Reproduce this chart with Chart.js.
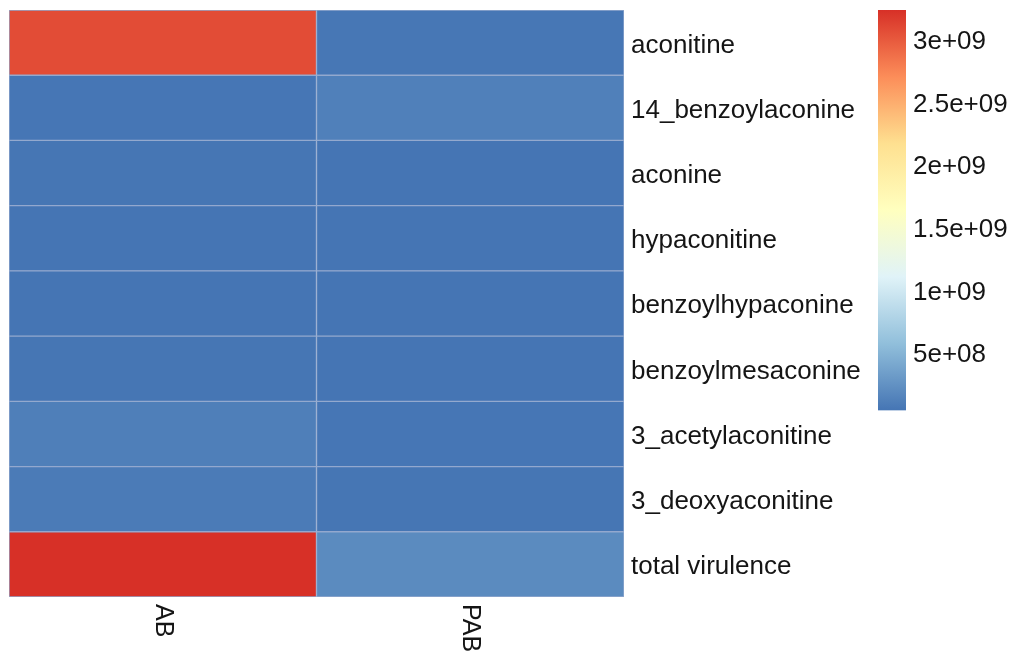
<!DOCTYPE html>
<html>
<head>
<meta charset="utf-8">
<title>Alkaloid content heatmap</title>
<script src="https://cdn.jsdelivr.net/npm/chart.js@4/dist/chart.umd.min.js"></script>
<style>
  html, body { margin: 0; padding: 0; background: #ffffff; }
  #wrap { width: 1017px; height: 660px; position: relative; }
</style>
</head>
<body>
<div id="wrap"><canvas id="heat"></canvas></div>
<script>
// Rows (compounds) and columns (samples)
const compounds = [
  'aconitine', '14_benzoylaconine', 'aconine', 'hypaconitine',
  'benzoylhypaconine', 'benzoylmesaconine', '3_acetylaconitine',
  '3_deoxyaconitine', 'total virulence'
];
const samples = ['AB', 'PAB'];

// Measured content per compound
const abValues  = [3.08e9, 5.5e7, 5.0e7, 4.6e7, 4.7e7, 5.0e7, 1.15e8, 8.5e7, 3.24e9];
const pabValues = [6.0e7, 1.25e8, 4.8e7, 4.5e7, 4.5e7, 4.6e7, 5.5e7, 5.0e7, 2.0e8];

// Colour key ticks
const legendTicks = [5e8, 1e9, 1.5e9, 2e9, 2.5e9, 3e9];
const legendTickLabels = ['5e+08', '1e+09', '1.5e+09', '2e+09', '2.5e+09', '3e+09'];

// Reversed RdYlBu ramp, low -> high
const paletteStops = ['#4575B4', '#91BFDB', '#E0F3F8', '#FFFFBF', '#FEE090', '#FC8D59', '#D73027'];

const allValues = abValues.concat(pabValues);
const vMin = Math.min(...allValues);
const vMax = Math.max(...allValues);

function hexToRgb(h) {
  const n = parseInt(h.slice(1), 16);
  return [(n >> 16) & 255, (n >> 8) & 255, n & 255];
}
const stopRgb = paletteStops.map(hexToRgb);

function colourFor(v) {
  let t = (v - vMin) / (vMax - vMin);
  t = Math.max(0, Math.min(1, t));
  const seg = t * (stopRgb.length - 1);
  const i = Math.min(Math.floor(seg), stopRgb.length - 2);
  const f = seg - i;
  const a = stopRgb[i], b = stopRgb[i + 1];
  const c = a.map((x, k) => Math.round(x + (b[k] - x) * f));
  return `rgb(${c[0]},${c[1]},${c[2]})`;
}

const FONT = "'Liberation Sans', Arial, sans-serif";
const FONT_SIZE = 25;
const TEXT_COLOUR = '#151515';
const CELL_BORDER = '#93A9CE';
const TEXT_WIDEN = 1.04;

// Colour key occupies the upper part of the plot height
const KEY_FRACTION = 0.682;
const keyScaleMin = vMax - (vMax - vMin) / KEY_FRACTION;

// Write a label left-aligned at (x, y), slightly widened
function putText(ctx, text, x, y) {
  ctx.save();
  ctx.translate(x, y);
  ctx.scale(TEXT_WIDEN, 1);
  ctx.fillText(text, 0, 0);
  ctx.restore();
}

// Text for rows, columns and colour key
const heatLabels = {
  id: 'heatLabels',
  afterDraw(chart) {
    const ctx = chart.ctx;
    const xs = chart.scales.x;
    const ys = chart.scales.y;
    const ks = chart.scales.key;
    ctx.save();
    ctx.font = `${FONT_SIZE}px ${FONT}`;
    ctx.fillStyle = TEXT_COLOUR;
    ctx.textAlign = 'left';
    ctx.textBaseline = 'middle';

    // compound names to the right of the grid
    compounds.forEach((name, i) => {
      putText(ctx, name, ys.left + 7, ys.getPixelForValue(i) + 3);
    });

    // colour key values
    legendTicks.forEach((v, i) => {
      putText(ctx, legendTickLabels[i], ks.left + 35, ks.getPixelForValue(v) + 2);
    });

    // sample names under the columns, reading top to bottom
    samples.forEach((s, i) => {
      const x = xs.getPixelForValue(i + 0.5);
      ctx.save();
      ctx.translate(x, chart.chartArea.bottom + 7);
      ctx.rotate(Math.PI / 2);
      ctx.fillText(s, 0, 0);
      ctx.restore();
    });
    ctx.restore();
  }
};

// Gradient bar of the colour key, placed along the key scale
const colourKey = {
  id: 'colourKey',
  afterDraw(chart) {
    const ks = chart.scales.key;
    const ctx = chart.ctx;
    const top = ks.getPixelForValue(vMax);
    const bottom = ks.getPixelForValue(vMin);
    const grad = ctx.createLinearGradient(0, bottom, 0, top);
    paletteStops.forEach((c, i) => grad.addColorStop(i / (paletteStops.length - 1), c));
    ctx.save();
    ctx.fillStyle = grad;
    ctx.fillRect(ks.left, top, 28, bottom - top);
    ctx.restore();
  }
};

// Side scales keep a fixed width and do not push the plot area in
function fixSideScale(width) {
  return function (scale) {
    scale.width = width;
    scale.paddingTop = 0;
    scale.paddingBottom = 0;
  };
}

new Chart(document.getElementById('heat'), {
  type: 'bar',
  data: {
    labels: compounds,
    datasets: [
      {
        label: samples[0],
        data: compounds.map(() => 1),
        backgroundColor: abValues.map(colourFor),
        borderColor: CELL_BORDER,
        borderWidth: 1,
        borderSkipped: false,
        barPercentage: 1,
        categoryPercentage: 1
      },
      {
        label: samples[1],
        data: compounds.map(() => 1),
        backgroundColor: pabValues.map(colourFor),
        borderColor: CELL_BORDER,
        borderWidth: 1,
        borderSkipped: false,
        barPercentage: 1,
        categoryPercentage: 1
      }
    ]
  },
  options: {
    indexAxis: 'y',
    responsive: true,
    maintainAspectRatio: false,
    animation: false,
    layout: { padding: { left: 9, top: 10, right: 0, bottom: 63 } },
    plugins: {
      legend: { display: false },
      tooltip: { enabled: false }
    },
    scales: {
      x: {
        type: 'linear',
        stacked: true,
        min: 0,
        max: samples.length,
        display: false
      },
      y: {
        type: 'category',
        stacked: true,
        position: 'right',
        weight: 0,
        grid: { display: false, drawTicks: false },
        border: { display: false },
        ticks: { display: false },
        afterFit: fixSideScale(254)
      },
      key: {
        type: 'linear',
        axis: 'y',
        position: 'right',
        weight: 1,
        offset: false,
        bounds: 'data',
        min: keyScaleMin,
        max: vMax,
        grid: { display: false, drawTicks: false, offset: false },
        border: { display: false },
        afterBuildTicks(scale) {
          scale.min = keyScaleMin;
          scale.max = vMax;
          scale.ticks = legendTicks.map(v => ({ value: v }));
        },
        ticks: { display: false },
        afterFit: fixSideScale(139)
      }
    }
  },
  plugins: [colourKey, heatLabels]
});
</script>
</body>
</html>
